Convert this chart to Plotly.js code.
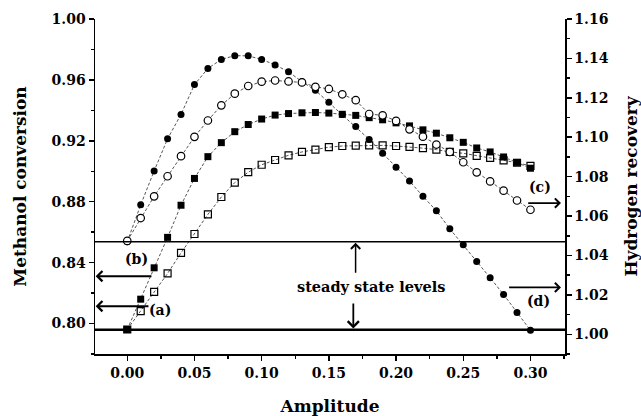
<!DOCTYPE html>
<html>
<head>
<meta charset="utf-8">
<script src="https://cdn.plot.ly/plotly-3.0.1.min.js"></script>
<style>html,body{margin:0;padding:0;background:#fff;}#chart{width:641px;height:416px;}</style>
</head>
<body>
<div id="chart"></div>
<script>
// Amplitude values (x)
const amplitude = [0.00,0.01,0.02,0.03,0.04,0.05,0.06,0.07,0.08,0.09,0.10,0.11,0.12,0.13,0.14,0.15,0.16,0.17,0.18,0.19,0.20,0.21,0.22,0.23,0.24,0.25,0.26,0.27,0.28,0.29,0.30];

// (a) open squares - methanol conversion (left axis)
const seriesA = [0.7961,0.8081,0.8208,0.8329,0.8464,0.8588,0.8717,0.8831,0.8926,0.8994,0.9043,0.9074,0.9105,0.9127,0.9142,0.9158,0.9166,0.9168,0.9170,0.9170,0.9166,0.9160,0.9152,0.9142,0.9127,0.9118,0.9101,0.9088,0.9072,0.9056,0.9035];

// (b) filled squares - methanol conversion (left axis)
const seriesB = [0.7961,0.8160,0.8366,0.8566,0.8777,0.8953,0.9096,0.9188,0.9260,0.9307,0.9343,0.9369,0.9379,0.9384,0.9386,0.9382,0.9374,0.9367,0.9352,0.9338,0.9318,0.9298,0.9272,0.9250,0.9220,0.9190,0.9153,0.9127,0.9094,0.9058,0.9020];

// (c) open circles - hydrogen recovery (right axis)
const seriesC = [1.0474,1.0590,1.0700,1.0802,1.0904,1.1002,1.1085,1.1162,1.1221,1.1260,1.1282,1.1288,1.1283,1.1278,1.1256,1.1245,1.1218,1.1188,1.1118,1.1111,1.1083,1.1040,1.1003,1.0963,1.0925,1.0873,1.0822,1.0776,1.0729,1.0679,1.0632];

// (d) filled circles - hydrogen recovery (right axis)
const seriesD = [1.0470,1.0657,1.0829,1.0992,1.1116,1.1267,1.1349,1.1395,1.1414,1.1413,1.1395,1.1367,1.1332,1.1282,1.1238,1.1177,1.1116,1.1055,1.0989,1.0919,1.0848,1.0778,1.0700,1.0627,1.0535,1.0454,1.0369,1.0287,1.0202,1.0111,1.0020];

// steady state levels on the methanol conversion axis
const steadyLevels = [0.8537, 0.7959];

const seriesLabels = ['(a)', '(b)', '(c)', '(d)'];
const axisTitles = ['Amplitude', 'Methanol conversion', 'Hydrogen recovery'];
const noteText = 'steady state levels';

const FONT = 'DejaVu Serif';
const lineStyle = {color: '#555', width: 1, dash: '3px,2px'};

const traces = [
  {x: amplitude, y: seriesA, yaxis: 'y', mode: 'lines+markers', name: seriesLabels[0],
   line: lineStyle, marker: {symbol: 'square-open', size: 7, color: '#000', line: {width: 1.2}}},
  {x: amplitude, y: seriesB, yaxis: 'y', mode: 'lines+markers', name: seriesLabels[1],
   line: lineStyle, marker: {symbol: 'square', size: 7, color: '#000'}},
  {x: amplitude, y: seriesD, yaxis: 'y2', mode: 'lines+markers', name: seriesLabels[3],
   line: lineStyle, marker: {symbol: 'circle', size: 7, color: '#000'}},
  {x: amplitude, y: seriesC, yaxis: 'y2', mode: 'lines+markers', name: seriesLabels[2],
   line: lineStyle, marker: {symbol: 'circle', size: 7.5, color: '#fff', line: {color: '#000', width: 1.2}}}
];

const tickFont = {family: FONT, size: 14, color: '#000', weight: 'bold'};
const titleFont = {family: FONT, size: 17, color: '#000', weight: 'bold'};
const xr = [-0.024, 0.3257];

const layout = {
  width: 641, height: 416,
  margin: {l: 95, r: 76, t: 19, b: 62},
  paper_bgcolor: '#fff', plot_bgcolor: '#fff',
  showlegend: false,
  xaxis: {
    range: xr, dtick: 0.05, tick0: 0, tickformat: '.2f',
    showgrid: false, zeroline: false, showline: true, linecolor: '#000', linewidth: 2,
    ticks: 'outside', ticklen: 5, tickwidth: 1.5, tickcolor: '#000',
    minor: {ticks: 'outside', dtick: 0.025, ticklen: 3, tickwidth: 1.5, tickcolor: '#000', showgrid: false},
    tickfont: tickFont,
    title: {text: axisTitles[0], font: titleFont, standoff: 20}
  },
  xaxis2: {
    range: xr, overlaying: 'x', side: 'top', dtick: 0.05, tick0: 0,
    showticklabels: false, showgrid: false, zeroline: false,
    showline: true, linecolor: '#888', linewidth: 1.5,
    ticks: 'inside', ticklen: 5, tickwidth: 1.5, tickcolor: '#000',
    minor: {ticks: 'inside', dtick: 0.025, ticklen: 4, tickwidth: 1.5, tickcolor: '#000', showgrid: false}
  },
  yaxis: {
    range: [0.78, 1.00], dtick: 0.04, tick0: 0.80, tickformat: '.2f',
    showgrid: false, zeroline: false, showline: true, linecolor: '#000', linewidth: 1.5,
    ticks: 'outside', ticklen: 5, tickwidth: 1.5, tickcolor: '#000',
    minor: {ticks: 'outside', dtick: 0.02, ticklen: 3, tickwidth: 1.5, tickcolor: '#000', showgrid: false},
    tickfont: tickFont,
    title: {text: axisTitles[1], font: titleFont, standoff: 20}
  },
  yaxis2: {
    range: [0.99, 1.16], overlaying: 'y', side: 'right', dtick: 0.02, tick0: 1.00, tickformat: '.2f',
    showgrid: false, zeroline: false, showline: true, linecolor: '#000', linewidth: 1.5,
    ticks: 'outside', ticklen: 5, tickwidth: 1.5, tickcolor: '#000',
    minor: {ticks: 'outside', dtick: 0.01, ticklen: 3, tickwidth: 1.5, tickcolor: '#000', showgrid: false},
    tickfont: tickFont,
    title: {text: axisTitles[2], font: titleFont, standoff: 17}
  },
  shapes: steadyLevels.map((v, i) => ({
    type: 'line', xref: 'paper', yref: 'y', x0: 0, x1: 1, y0: v, y1: v,
    line: {color: '#000', width: i === 0 ? 1.5 : 2.5}
  })),
  annotations: [
    // label texts
    {x: 0.0069, y: 0.8423, xref: 'x', yref: 'y', text: seriesLabels[1], showarrow: false, font: {family: FONT, size: 14, weight: 'bold', color: '#000'}},
    {x: 0.0243, y: 0.8088, xref: 'x', yref: 'y', text: seriesLabels[0], showarrow: false, font: {family: FONT, size: 14, weight: 'bold', color: '#000'}},
    {x: 0.3071, y: 1.0749, xref: 'x', yref: 'y2', text: seriesLabels[2], showarrow: false, font: {family: FONT, size: 14, weight: 'bold', color: '#000'}},
    {x: 0.3058, y: 1.0170, xref: 'x', yref: 'y2', text: seriesLabels[3], showarrow: false, font: {family: FONT, size: 14, weight: 'bold', color: '#000'}},
    {x: 0.1813, y: 0.8245, xref: 'x', yref: 'y', text: noteText, showarrow: false, font: {family: FONT, size: 14.5, weight: 'bold', color: '#000'}},
    // arrows (b),(a) to the left axis
    {x: -0.0235, y: 0.8311, ax: 0.0191, ay: 0.8311, xref: 'x', yref: 'y', axref: 'x', ayref: 'y', text: '', showarrow: true, arrowhead: 4, arrowsize: 1, arrowwidth: 2, arrowcolor: '#000', standoff: 0, startstandoff: 0},
    {x: -0.0235, y: 0.8114, ax: 0.0169, ay: 0.8114, xref: 'x', yref: 'y', axref: 'x', ayref: 'y', text: '', showarrow: true, arrowhead: 4, arrowsize: 1, arrowwidth: 2, arrowcolor: '#000', standoff: 0, startstandoff: 0},
    // arrows (c),(d) to the right axis
    {x: 0.3227, y: 1.0666, ax: 0.2972, ay: 1.0666, xref: 'x', yref: 'y2', axref: 'x', ayref: 'y2', text: '', showarrow: true, arrowhead: 4, arrowsize: 1, arrowwidth: 1.8, arrowcolor: '#000', standoff: 0, startstandoff: 0},
    {x: 0.3227, y: 1.0238, ax: 0.2830, ay: 1.0238, xref: 'x', yref: 'y2', axref: 'x', ayref: 'y2', text: '', showarrow: true, arrowhead: 4, arrowsize: 1, arrowwidth: 1.8, arrowcolor: '#000', standoff: 0, startstandoff: 0},
    // steady state arrows
    {x: 0.1699, y: 0.8530, ax: 0.1699, ay: 0.8324, xref: 'x', yref: 'y', axref: 'x', ayref: 'y', text: '', showarrow: true, arrowhead: 4, arrowsize: 1.2, arrowwidth: 1.5, arrowcolor: '#000', standoff: 0, startstandoff: 0},
    {x: 0.1682, y: 0.7967, ax: 0.1682, ay: 0.8142, xref: 'x', yref: 'y', axref: 'x', ayref: 'y', text: '', showarrow: true, arrowhead: 4, arrowsize: 1.2, arrowwidth: 1.8, arrowcolor: '#000', standoff: 0, startstandoff: 0}
  ]
};

Plotly.newPlot('chart', traces, layout, {displayModeBar: false, staticPlot: true});
</script>
</body>
</html>
